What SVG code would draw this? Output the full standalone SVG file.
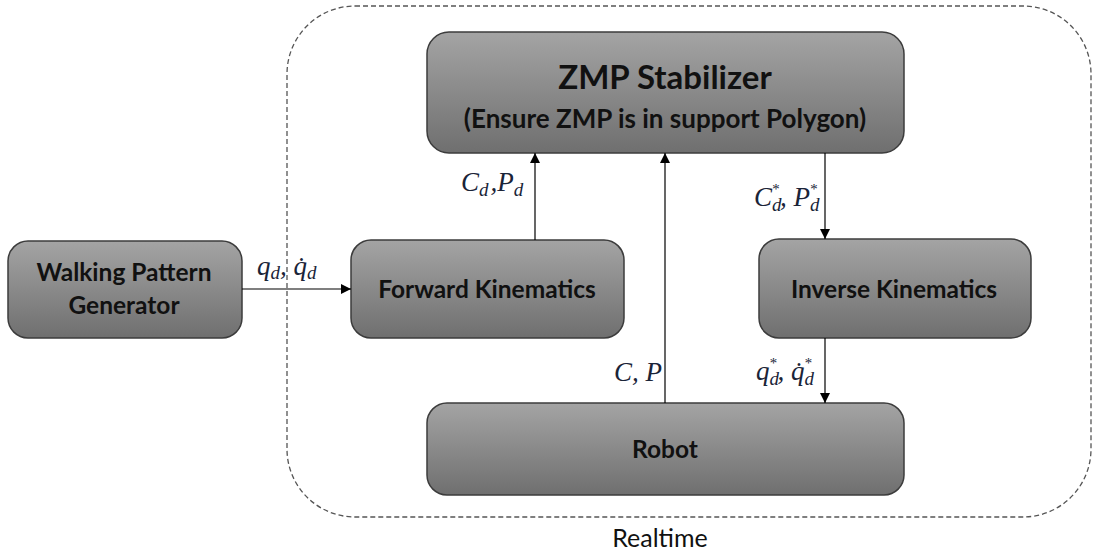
<svg xmlns="http://www.w3.org/2000/svg" width="1093" height="554" viewBox="0 0 1093 554">
  <defs>
    <linearGradient id="boxFill" x1="0" y1="0" x2="0" y2="1">
      <stop offset="0" stop-color="#a4a4a4"/>
      <stop offset="1" stop-color="#6f6f6f"/>
    </linearGradient>
    <marker id="arrow" viewBox="0 0 10 10" refX="10" refY="5" markerWidth="10" markerHeight="10" markerUnits="userSpaceOnUse" orient="auto">
      <path d="M0,0 L10,5 L0,10 z" fill="#000"/>
    </marker>
    <style>
      .box { fill: url(#boxFill); stroke: #3c3c3c; stroke-width: 1.5; }
      .lbl { font-family: Lato, "Open Sans", "Liberation Sans", sans-serif; font-weight: bold; fill: #111; text-anchor: middle; }
      .math { font-family: "Liberation Serif", "DejaVu Serif", serif; font-style: italic; font-size: 27px; fill: #1a2438; }
      .sub { font-size: 19px; }
      .star { font-size: 15px; }
      .edge { stroke: #000; stroke-width: 1.2; fill: none; marker-end: url(#arrow); }
      .frame { fill: none; stroke: #555; stroke-width: 1.3; stroke-dasharray: 5 3; }
    </style>
  </defs>

  <!-- realtime boundary -->
  <g id="realtime">
    <rect class="frame" x="287" y="6" width="804" height="511" rx="68" ry="68"/>
    <text x="660" y="547" font-family="Lato, 'Open Sans', 'Liberation Sans', sans-serif" font-size="25" fill="#111" text-anchor="middle">Realtime</text>
  </g>

  <g id="walking-pattern-generator">
    <rect class="box" x="8" y="241" width="234" height="97" rx="20"/>
    <text class="lbl" x="124" y="281" font-size="24.5">Walking Pattern</text>
    <text class="lbl" x="124" y="314" font-size="24.5">Generator</text>
  </g>

  <g id="forward-kinematics">
    <rect class="box" x="351" y="240" width="273" height="98" rx="20"/>
    <text class="lbl" x="487" y="298" font-size="24.5">Forward Kinematics</text>
  </g>

  <g id="zmp-stabilizer">
    <rect class="box" x="427" y="32" width="477" height="121" rx="22"/>
    <text class="lbl" x="665" y="89" font-size="33">ZMP Stabilizer</text>
    <text class="lbl" x="665" y="128" font-size="26">(Ensure ZMP is in support Polygon)</text>
  </g>

  <g id="inverse-kinematics">
    <rect class="box" x="759" y="239" width="272" height="99" rx="20"/>
    <text class="lbl" x="894" y="298" font-size="24.5">Inverse Kinematics</text>
  </g>

  <g id="robot">
    <rect class="box" x="427" y="403" width="477" height="92" rx="20"/>
    <text class="lbl" x="665" y="458" font-size="24.5">Robot</text>
  </g>

  <g id="connectors">
    <line class="edge" x1="242" y1="289" x2="351" y2="289"/>
    <line class="edge" x1="535" y1="240" x2="535" y2="153"/>
    <line class="edge" x1="665" y1="403" x2="665" y2="153"/>
    <line class="edge" x1="825" y1="153" x2="825" y2="239"/>
    <line class="edge" x1="825" y1="338" x2="825" y2="403"/>

    <text class="math" x="257" y="275">q<tspan class="sub" dy="4">d</tspan><tspan dy="-4">, q̇</tspan><tspan class="sub" dy="4">d</tspan></text>
    <text class="math" x="461" y="191">C<tspan class="sub" dy="5">d</tspan><tspan dx="2" dy="-5">,P</tspan><tspan class="sub" dy="5">d</tspan></text>
    <text class="math" x="614" y="381">C, P</text>
    <text class="math" x="754" y="206">C<tspan class="sub" dy="5">d</tspan><tspan class="star" dx="-10" dy="-17">*</tspan><tspan dx="1" dy="12">, P</tspan><tspan class="sub" dy="5">d</tspan><tspan class="star" dx="-10" dy="-17">*</tspan></text>
    <text class="math" x="756" y="380">q<tspan class="sub" dy="5">d</tspan><tspan class="star" dx="-10" dy="-17">*</tspan><tspan dx="1" dy="12">, q̇</tspan><tspan class="sub" dy="5">d</tspan><tspan class="star" dx="-10" dy="-17">*</tspan></text>
  </g>
</svg>
